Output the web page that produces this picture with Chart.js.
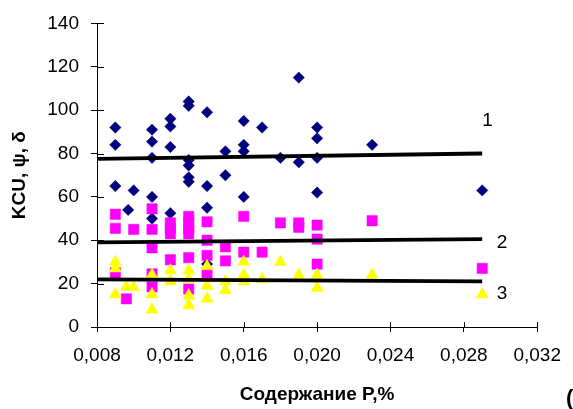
<!DOCTYPE html>
<html><head><meta charset="utf-8">
<script src="https://cdn.jsdelivr.net/npm/chart.js@4/dist/chart.umd.min.js"></script>
<style>html,body{margin:0;padding:0;background:#fff;}</style>
</head><body>
<canvas id="c" width="573" height="409" style="display:block;width:573px;height:409px"></canvas>
<script>
// Series 1 (KCU) – diamonds
const kcuX = [0.009,0.009,0.009,0.0097,0.010,0.011,0.011,0.011,0.011,0.011,0.012,0.012,0.012,0.012,0.013,0.013,0.013,0.013,0.013,0.013,0.014,0.014,0.014,0.014,0.015,0.015,0.016,0.016,0.016,0.016,0.017,0.018,0.019,0.019,0.020,0.020,0.020,0.020,0.023,0.029];
const kcuY = [92,84,65,54,63,91,85.5,78,60,50,96,92.5,83,52.5,104,102,77,74.5,69,67,99,65,55,29,81,70,95,84,81,60,92,78,115,76,92,87,78,62,84,63];
// Series 2 (psi) – squares
const psiX = [0.009,0.009,0.009,0.0096,0.010,0.011,0.011,0.011,0.011,0.011,0.012,0.012,0.012,0.012,0.013,0.013,0.013,0.013,0.013,0.013,0.014,0.014,0.014,0.014,0.015,0.015,0.016,0.016,0.017,0.018,0.019,0.019,0.020,0.020,0.020,0.023,0.029];
const psiY = [52,45.5,25,13,45,54.5,45,36.5,24.5,18.5,48,45.5,43,31,51,48,45.5,43,32,17.5,48.5,40,33,25,37,30.5,51,34.5,34.5,48,48,46,47,40.5,29,49,27];
// Series 3 (delta) – triangles
const deltaX = [0.009,0.009,0.009,0.0096,0.010,0.011,0.011,0.011,0.012,0.012,0.013,0.013,0.013,0.013,0.014,0.014,0.014,0.015,0.015,0.016,0.016,0.016,0.017,0.018,0.019,0.020,0.020,0.023,0.029];
const deltaY = [30,27,15,18.5,18.5,24,15,8,26,21,26,22,14.5,10,28,19,13,21,17,30,24,21,22,30,24,24,18,24,15];
// Trend lines
const trendX = [0.008, 0.029];
const trend1 = [77.5, 80];
const trend2 = [39, 40.5];
const trend3 = [22, 21];
// Curve labels
const curveLabels = ['1', '2', '3'];
const curveLabelX = [0.029, 0.0298, 0.0298];
const curveLabelY = [95, 39, 15.5];
// Axis ticks / titles
const xTickValues = [0.008,0.012,0.016,0.020,0.024,0.028,0.032];
const yTickValues = [0,20,40,60,80,100,120,140];
const xTitle = 'Содержание P,%';
const yTitle = 'KCU, ψ, δ';

const pts = (xs, ys) => xs.map((x, i) => ({x, y: ys[i]}));
const FONT = '"Liberation Sans", Arial, sans-serif';
Chart.defaults.font.family = FONT;
Chart.defaults.color = '#000';

const extras = {
  id: 'extras',
  afterDraw(chart) {
    const {ctx, scales: {x, y}} = chart;
    ctx.save();
    ctx.strokeStyle = '#000';
    ctx.lineWidth = 1;
    x.ticks.forEach(t => {
      const px = Math.round(x.getPixelForValue(t.value)) + 0.5;
      ctx.beginPath(); ctx.moveTo(px, y.bottom); ctx.lineTo(px, y.bottom - 5); ctx.stroke();
    });
    y.ticks.forEach(t => {
      const py = Math.round(y.getPixelForValue(t.value)) + 0.5;
      ctx.beginPath(); ctx.moveTo(x.left, py); ctx.lineTo(x.left + 7, py); ctx.stroke();
    });
    ctx.fillStyle = '#000';
    ctx.font = '19px ' + FONT;
    ctx.textAlign = 'left';
    ctx.textBaseline = 'middle';
    curveLabels.forEach((l, i) => {
      ctx.fillText(l, x.getPixelForValue(curveLabelX[i]), y.getPixelForValue(curveLabelY[i]));
    });
    ctx.font = 'bold 22px ' + FONT;
    ctx.fillText('(', chart.width - 7, chart.height - 10);
    ctx.restore();
  }
};

const trendDs = (data) => ({
  data: pts(trendX, data), showLine: true, borderColor: '#000', borderWidth: 3.8,
  pointRadius: 0, pointHoverRadius: 0, fill: false, order: 0
});

new Chart(document.getElementById('c'), {
  type: 'scatter',
  data: {
    datasets: [
      {data: pts(kcuX, kcuY), pointStyle: 'rectRot', pointRadius: 5.7, backgroundColor: '#000080', borderColor: '#000080', borderWidth: 0.5, order: 3},
      {data: pts(psiX, psiY), pointStyle: 'rect', pointRadius: 7.3, backgroundColor: '#FF00FF', borderColor: '#FF00FF', borderWidth: 0.5, order: 2},
      {data: pts(deltaX, deltaY), pointStyle: 'triangle', pointRadius: 7, backgroundColor: '#FFFF00', borderColor: '#FFFF00', borderWidth: 0.5, order: 1},
      trendDs(trend1), trendDs(trend2), trendDs(trend3)
    ]
  },
  options: {
    responsive: false,
    animation: false,
    devicePixelRatio: 1,
    layout: {padding: {top: 19, right: 31, bottom: 0, left: 0}},
    plugins: {legend: {display: false}, tooltip: {enabled: false}},
    scales: {
      x: {
        type: 'linear', min: 0.008, max: 0.032,
        afterBuildTicks: s => { s.ticks = xTickValues.map(v => ({value: v})); },
        afterFit: s => { s.height = 82; },
        grid: {drawOnChartArea: false, drawTicks: true, tickLength: 5, color: '#000'},
        border: {display: true, color: '#000', width: 1},
        ticks: {font: {size: 19}, color: '#000', padding: 12, maxRotation: 0, autoSkip: false,
          callback: v => v.toFixed(3).replace('.', ',')},
        title: {display: true, text: xTitle, font: {size: 19, weight: 'bold'}, color: '#000', padding: {top: 0, bottom: 3}}
      },
      y: {
        type: 'linear', min: 0, max: 140,
        afterBuildTicks: s => { s.ticks = yTickValues.map(v => ({value: v})); },
        afterFit: s => { s.width = 97; },
        grid: {drawOnChartArea: false, drawTicks: true, tickLength: 6, color: '#000'},
        border: {display: true, color: '#000', width: 1},
        ticks: {font: {size: 19}, color: '#000', padding: 12, autoSkip: false, callback: v => String(v)},
        title: {display: true, text: yTitle, font: {size: 19, weight: 'bold'}, color: '#000', padding: {top: 8, bottom: 0}}
      }
    }
  },
  plugins: [extras]
});
</script>
</body></html>
